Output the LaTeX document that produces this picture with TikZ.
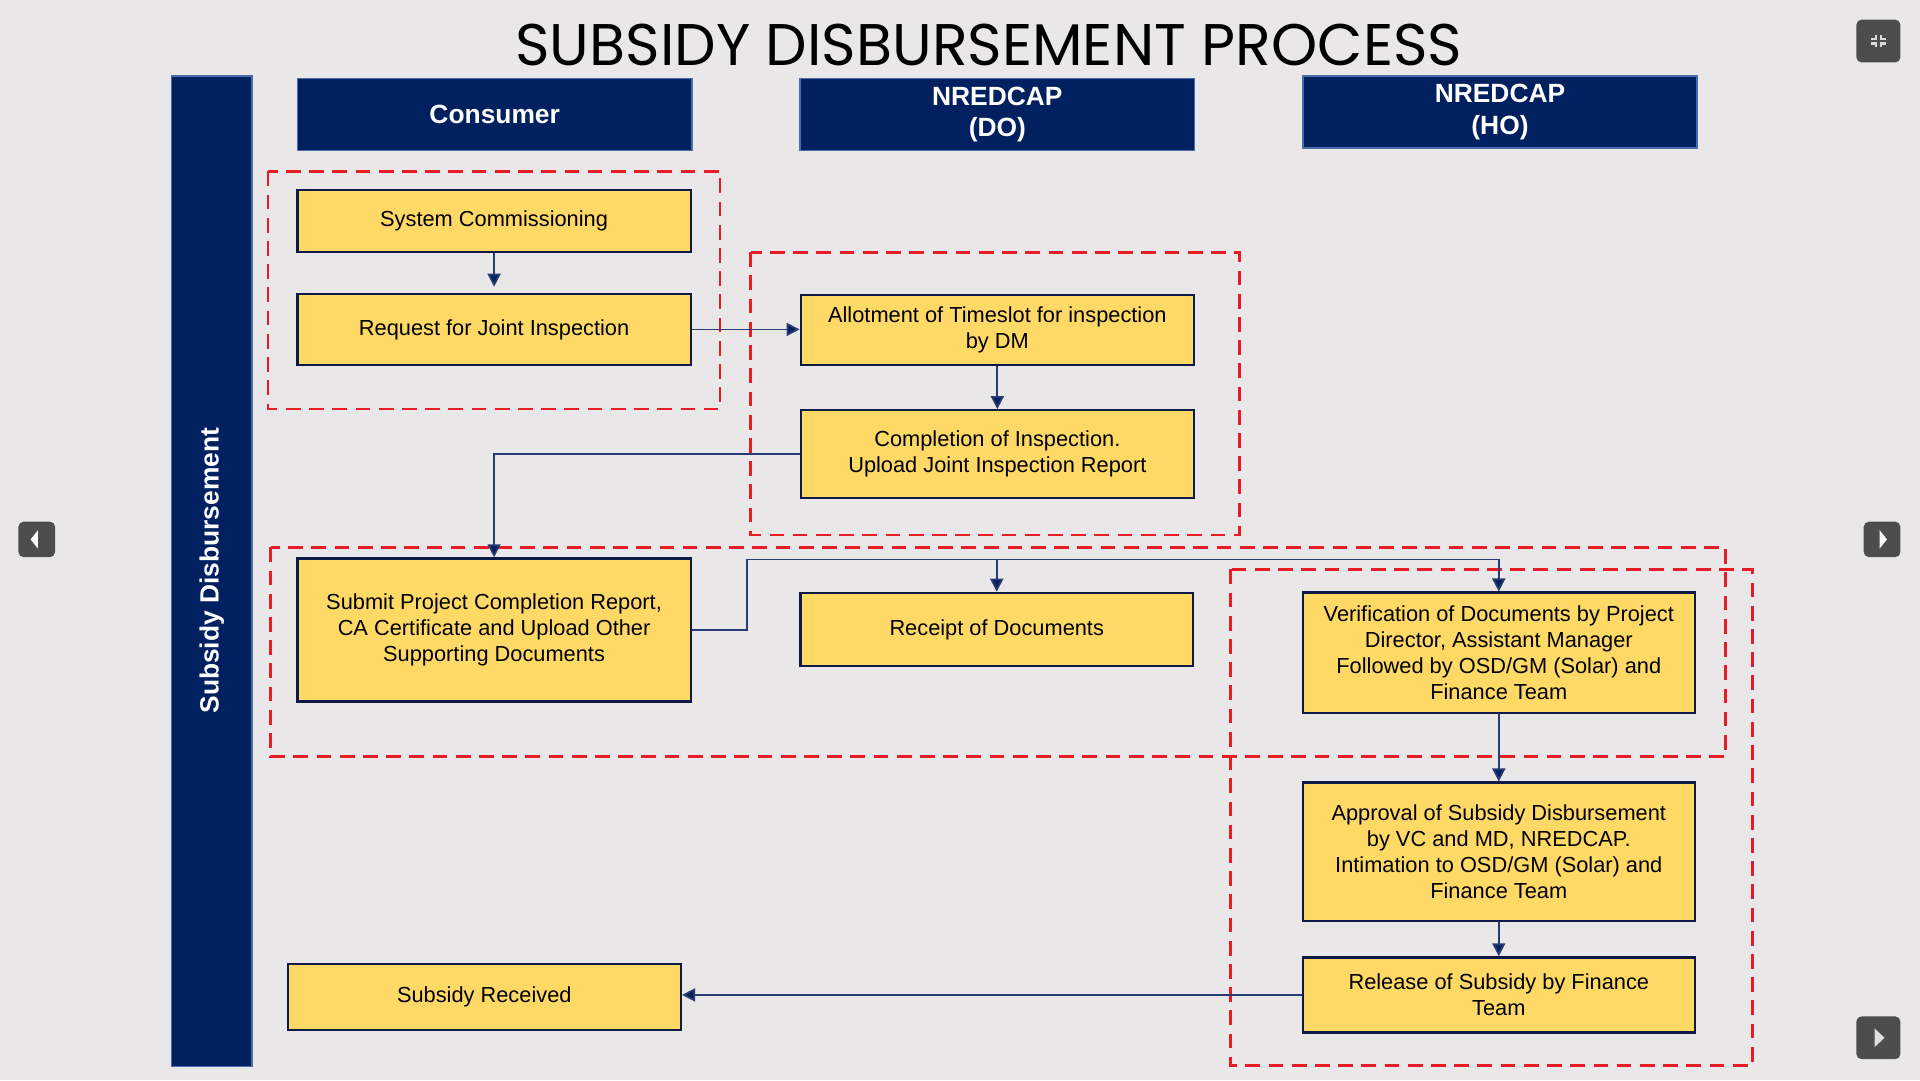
\documentclass[tikz,border=0pt]{standalone}
\usepackage{fontspec}
\setmainfont{Liberation Sans}
\newfontfamily\titlefont{Poppins}
\usepackage{tikz}
\usetikzlibrary{arrows.meta,calc}
\definecolor{pagebg}{RGB}{233,231,231}
\definecolor{navy}{RGB}{0,32,96}
\definecolor{navyline}{RGB}{40,60,115}
\definecolor{headedge}{RGB}{70,110,170}
\definecolor{boxfill}{RGB}{255,217,102}
\definecolor{boxedge}{RGB}{15,25,70}
\definecolor{dashred}{RGB}{232,28,36}
\definecolor{btngray}{RGB}{77,77,77}
\def\boxfont{\fontsize{6.2}{7.4}\selectfont}

\begin{document}
\begin{tikzpicture}[x=0.012245cm, y=-0.012245cm,
    stepbox/.style={draw=boxedge, line width=0.65pt, fill=boxfill, minimum width=3.93cm, align=center, inner sep=1pt, font=\boxfont},
    lanehead/.style={draw=headedge, line width=0.5pt, fill=navy, text=white, minimum width=3.94cm, minimum height=0.72cm, inner sep=1pt, align=center, font=\fontsize{7.5}{9}\selectfont\bfseries},
    groupbox/.style={draw=dashred, line width=0.75pt, dash pattern=on 4.2pt off 2.4pt},
    flow/.style={draw=navyline, line width=0.5pt, -{Triangle[length=1.3mm,width=1.3mm,fill=navy]}},
    btn/.style={fill=btngray, rounded corners=1.5pt}]
		%%%%% START %%%%%
		
		\fill[pagebg] (0,0) rectangle (1568,882);
		
		\node (title) at (807.5,37) {\titlefont\fontsize{16.7}{20}\selectfont SUBSIDY DISBURSEMENT PROCESS};
		
		% lane bar
		\draw[draw=headedge, line width=0.5pt, fill=navy] (140,62) rectangle (206,871);
		\node[rotate=90, text=white, font=\fontsize{7.5}{9}\selectfont\bfseries] (lane) at (173,466) {Subsidy Disbursement};
		
		% column heads
		\node[lanehead] (hcons) at (404,93.5) {Consumer};
		\node[lanehead] (hdo) at (814.5,93.5) {NREDCAP\\(DO)};
		\node[lanehead] (hho) at (1225,91.5) {NREDCAP\\(HO)};
		
		% dashed groups
		\draw[groupbox] (219,140) rectangle (588,334);
		\draw[groupbox] (613,206) rectangle (1012,437);
		\draw[groupbox] (221,447) rectangle (1409,618);
		\draw[groupbox] (1005,465) rectangle (1431,870);
		
		% steps
		\node[stepbox, minimum height=0.62cm] (syscomm) at (403.5,180.5) {System Commissioning};
		\node[stepbox, minimum height=0.71cm] (reqji) at (403.5,269) {Request for Joint Inspection};
		\node[stepbox, minimum height=0.70cm] (allot) at (814.5,269.5) {Allotment of Timeslot for inspection\\by DM};
		\node[stepbox, minimum height=0.88cm] (inspdone) at (814.5,371) {Completion of Inspection.\\Upload Joint Inspection Report};
		\node[stepbox, minimum height=1.43cm] (submit) at (403.5,514.5) {Submit Project Completion Report,\\CA Certificate and Upload Other\\Supporting Documents};
		\node[stepbox, minimum height=0.73cm, minimum width=3.92cm] (receipt) at (814,514) {Receipt of Documents};
		\node[stepbox, minimum height=1.20cm, minimum width=3.92cm] (verif) at (1224,533) {Verification of Documents by Project\\Director, Assistant Manager\\Followed by OSD/GM (Solar) and\\Finance Team};
		\node[stepbox, minimum height=1.38cm, minimum width=3.92cm] (approval) at (1224,695.5) {Approval of Subsidy Disbursement\\by VC and MD, NREDCAP.\\Intimation to OSD/GM (Solar) and\\Finance Team};
		\node[stepbox, minimum height=0.75cm, minimum width=3.92cm] (release) at (1224,812.5) {Release of Subsidy by Finance\\Team};
		\node[stepbox, minimum height=0.66cm] (received) at (395.5,814) {Subsidy Received};
		
		% connectors
		\coordinate (bus) at (610,457);
		\draw[flow, shorten >=0.06cm] (syscomm) -- (reqji);
		\draw[flow] (reqji.east) -- (reqji.east -| allot.west);
		\draw[flow] (allot) -- (inspdone);
		\draw[flow] (inspdone.west) -| (submit.north);
		\draw[flow] (submit.east) -| (bus) -| (verif.north);
		\draw[flow] (bus -| receipt.north) -- (receipt.north);
		\draw[flow] (verif) -- (approval);
		\draw[flow] (approval) -- (release);
		\draw[flow] (release.west) -- (release.west -| received.east);
		
		% viewer buttons
		\fill[btn] (15,426) rectangle (45,455);
		\fill[white] (25,440.5) -- (31,433) -- (31,448) -- cycle;
		\fill[btn] (1522,426) rectangle (1552,455);
		\fill[white] (1541,440.5) -- (1535,433) -- (1535,448) -- cycle;
		\fill[btn] (1516,16) rectangle (1552,51);
		\foreach \sx/\sy in {-1/-1, 1/-1, -1/1, 1/1}{
			\draw[gray!30, line width=0.6pt] (1534+\sx*2,33.5+\sy*5) -- (1534+\sx*2,33.5+\sy*2) -- (1534+\sx*6,33.5+\sy*2);
		}
		\fill[btn] (1516,830) rectangle (1552,865);
		\fill[gray!25] (1539,847.5) -- (1531,840) -- (1531,855) -- cycle;
		
		%%%%% END %%%%%
	\end{tikzpicture}
\end{document}
